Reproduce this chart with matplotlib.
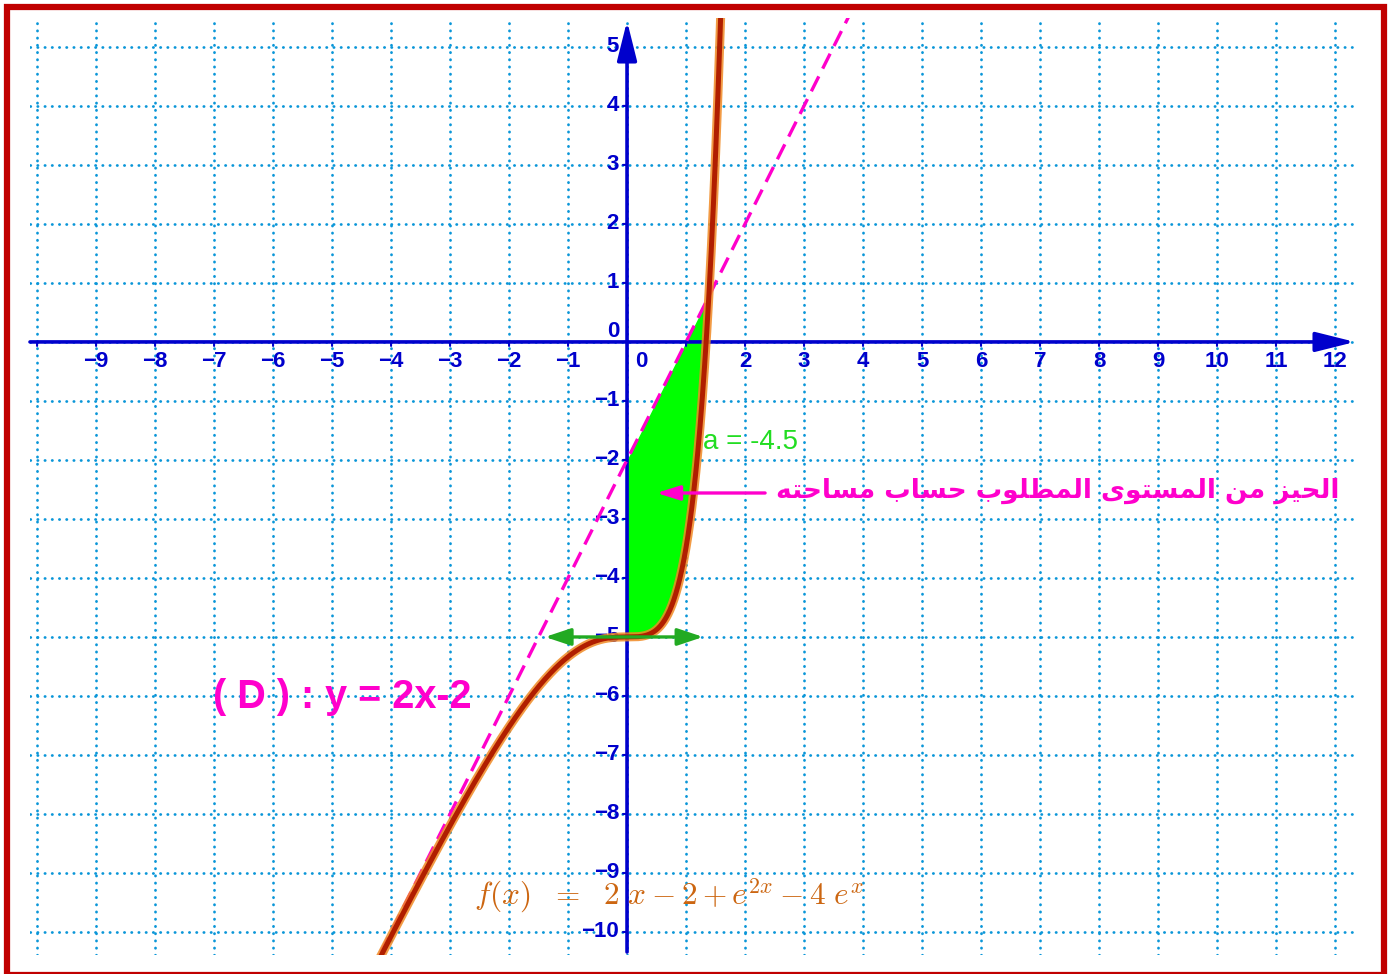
import numpy as np
import matplotlib
matplotlib.use('Agg')
import matplotlib.pyplot as plt
from matplotlib.patches import Rectangle

# curve f(x) = 2x - 2 + e^(2x) - 4 e^x   and the line (D): y = 2x - 2
lin_slope, lin_icpt = 2, -2
coef_e2x, coef_ex = 1, -4
x_min_view, x_max_view = -10.12, 12.39
y_min_view, y_max_view = -10.39, 5.49

x_ticks = list(range(-10, 13))
y_ticks = list(range(-10, 6))
x_labels = [v for v in range(-9, 13) if v != 0]
y_labels = [v for v in range(-10, 6) if v != 0]

area_label = "a = -4.5"
d_label = "( D ) : y = 2x-2"
ar_label = "الحيز من المستوى المطلوب حساب مساحته"
f_label = r"$f(x)\ \ =\ \ 2\ x-2+e^{2x}-4\ e^{x}$"
tangent_x = (-1.39, 1.29)
tangent_y = -5


def f(x):
    return lin_slope * x + lin_icpt + coef_e2x * np.exp(2 * x) + coef_ex * np.exp(x)


def d(x):
    return lin_slope * x + lin_icpt


# poor man's arabic shaping (no raqm in matplotlib)
forms = {
    'ا': ('\uFE8D', '\uFE8E', None, None),
    'ب': ('\uFE8F', '\uFE90', '\uFE91', '\uFE92'),
    'ت': ('\uFE95', '\uFE96', '\uFE97', '\uFE98'),
    'ح': ('\uFEA1', '\uFEA2', '\uFEA3', '\uFEA4'),
    'ز': ('\uFEAF', '\uFEB0', None, None),
    'س': ('\uFEB1', '\uFEB2', '\uFEB3', '\uFEB4'),
    'ط': ('\uFEC1', '\uFEC2', '\uFEC3', '\uFEC4'),
    'ل': ('\uFEDD', '\uFEDE', '\uFEDF', '\uFEE0'),
    'م': ('\uFEE1', '\uFEE2', '\uFEE3', '\uFEE4'),
    'ن': ('\uFEE5', '\uFEE6', '\uFEE7', '\uFEE8'),
    'ه': ('\uFEE9', '\uFEEA', '\uFEEB', '\uFEEC'),
    'و': ('\uFEED', '\uFEEE', None, None),
    'ى': ('\uFEEF', '\uFEF0', None, None),
    'ي': ('\uFEF1', '\uFEF2', '\uFEF3', '\uFEF4'),
}


def shape(text):
    out = []
    for i, ch in enumerate(text):
        if ch not in forms:
            out.append(ch)
            continue
        prev = text[i - 1] if i > 0 else ''
        nxt = text[i + 1] if i + 1 < len(text) else ''
        jp = prev in forms and forms[prev][2] is not None
        jn = nxt in forms and forms[ch][2] is not None
        iso, fin, ini, med = forms[ch]
        if jp and jn:
            out.append(med)
        elif jp:
            out.append(fin)
        elif jn:
            out.append(ini)
        else:
            out.append(iso)
    return ''.join(reversed(out))


plt.rcParams['mathtext.fontset'] = 'cm'
blue = '#0000CC'
grid_c = '#0A96D8'
mag = '#FF00CC'
green_line = '#22AA22'

W, H = 1391, 974
fig = plt.figure(figsize=(W / 100, H / 100), dpi=100)
ax = fig.add_axes([30 / W, (H - 955) / H, (1358 - 30) / W, (955 - 18) / H])
ax.set_xlim(x_min_view, x_max_view)
ax.set_ylim(y_min_view, y_max_view)
ax.set_xticks(x_ticks)
ax.set_yticks(y_ticks)
for s in ax.spines.values():
    s.set_visible(False)
ax.tick_params(labelbottom=False, labelleft=False, length=0)
ax.grid(True, color=grid_c, lw=2.0, linestyle=(0, (0.1, 2.5)),
        dash_capstyle='round', zorder=0)
ax.set_axisbelow(True)

# axes with arrows
arr = dict(arrowstyle='-|>,head_length=0.4,head_width=0.1',
           color=blue, lw=2.6, mutation_scale=60, shrinkA=0, shrinkB=0)
ax.annotate('', xy=(12.34, 0), xytext=(x_min_view, 0), arrowprops=arr, zorder=3)
ax.annotate('', xy=(0, 5.44), xytext=(0, y_min_view + 0.05), arrowprops=arr,
            zorder=3)
# small ticks
for t in x_ticks:
    ax.annotate('', xy=(t, 0), xytext=(0, -4), textcoords='offset pixels',
                arrowprops=dict(arrowstyle='-', color=blue, lw=1.5,
                                shrinkA=0, shrinkB=0), zorder=3)
for t in y_ticks:
    ax.annotate('', xy=(0, t), xytext=(-4, 0), textcoords='offset pixels',
                arrowprops=dict(arrowstyle='-', color=blue, lw=1.5,
                                shrinkA=0, shrinkB=0), zorder=3)

lab_kw = dict(color=blue, fontsize=16, fontweight='bold',
              family=['Liberation Sans', 'DejaVu Sans'], zorder=2)
for t in x_labels:
    ax.annotate(str(t).replace('-', '\u2212'), xy=(t, 0), xytext=(0, -20),
                textcoords='offset pixels', ha='center', va='center', **lab_kw)
ax.annotate('0', xy=(0, 0), xytext=(14, -20), textcoords='offset pixels',
            ha='center', va='center', **lab_kw)
for t in y_labels:
    ax.annotate(str(t).replace('-', '\u2212'), xy=(0, t), xytext=(-8, 0),
                textcoords='offset pixels', ha='right', va='center', **lab_kw)
ax.annotate('0', xy=(0, 0), xytext=(-8, 10), textcoords='offset pixels',
            ha='right', va='center', **lab_kw)

# shaded region between D and the curve, from 0 to ln 4
x_end = np.log(-coef_ex / coef_e2x)
xr = np.linspace(0, x_end, 300)
ax.fill_between(xr, f(xr), d(xr), color='#00FF00', lw=0, zorder=2.5)

# line D
xl = np.linspace(-5, 4.5, 200)
ax.plot(xl, d(xl), color=mag, lw=2.4, linestyle=(0, (5, 2.6)), zorder=4)

# curve
xc = np.linspace(-4.6, 1.7, 1500)
ax.plot(xc, f(xc), color='#F08A24', lw=6.5, alpha=0.85, zorder=5,
        solid_capstyle='round')
ax.plot(xc, f(xc), color='#B01E00', lw=3.6, zorder=6)

# horizontal tangent at x = 0
ax.annotate('', xy=(tangent_x[1], tangent_y), xytext=(tangent_x[0], tangent_y),
            arrowprops=dict(arrowstyle='<|-|>,head_length=0.6,head_width=0.2',
                            color=green_line, lw=2.4, mutation_scale=26,
                            shrinkA=0, shrinkB=0), zorder=7)

# texts
ax.text(1.29, -1.69, area_label, color='#22DD22', fontsize=20,
        family='Liberation Sans', ha='left', va='center', zorder=8)
ax.text(-7.02, -6.02, d_label, color=mag, fontsize=28.5, fontweight='bold',
        family='Liberation Sans', ha='left', va='center', zorder=8)
ax.text(12.08, -2.52, shape(ar_label), color=mag, fontsize=19,
        fontweight='bold', family=['DejaVu Sans'], ha='right', va='center',
        zorder=8)
ax.annotate('', xy=(0.5, -2.56), xytext=(2.34, -2.56),
            arrowprops=dict(arrowstyle='-|>,head_length=0.7,head_width=0.22',
                            color=mag, lw=2.4, mutation_scale=20,
                            shrinkA=0, shrinkB=0), zorder=8)
ax.text(-2.59, -9.39, f_label, color='#CC6611', fontsize=22.5,
        ha='left', va='center', zorder=8)

# red frame
fig.patches.append(Rectangle((7 / W, -1 / H), (1383.5 - 7) / W, 968 / H,
                             transform=fig.transFigure, fill=False,
                             edgecolor='#C00000', lw=4.5, zorder=10))

fig.savefig('out.png', dpi=100)
